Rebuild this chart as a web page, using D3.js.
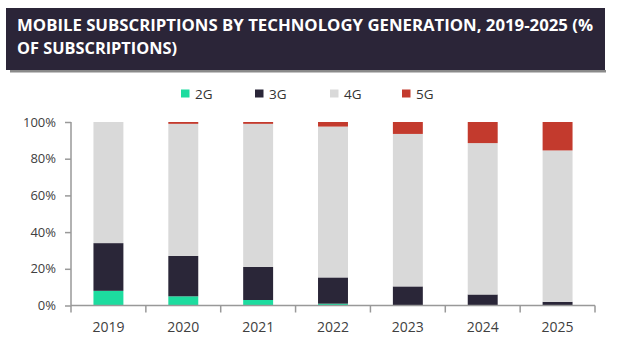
<!DOCTYPE html>
<html><head><meta charset="utf-8">
<script src="https://cdn.jsdelivr.net/npm/d3@7/dist/d3.min.js"></script>
<style>body{margin:0;background:#fff;}svg{display:block;}</style>
</head><body><svg id="c" width="624" height="360"></svg>
<script>
const years = ["2019","2020","2021","2022","2023","2024","2025"];
const series = ["2G","3G","4G","5G"];
const g2 = [8, 5, 3, 1, 0, 0, 0];
const g3 = [26, 22, 18, 14.3, 10.4, 6, 2];
const g4 = [66, 72, 78, 82.2, 83.1, 82.5, 82.5];
const g5 = [0, 1, 1, 2.5, 6.5, 11.5, 15.5];
const yTicks = [0, 20, 40, 60, 80, 100];
const colors = {"2G":"#1ddc9f","3G":"#2a2638","4G":"#d9d9d9","5G":"#c33a2d"};
const titleLines = ["MOBILE SUBSCRIPTIONS  BY TECHNOLOGY GENERATION, 2019-2025 (%", "OF SUBSCRIPTIONS)"];

const svg = d3.select("#c");
// title box
svg.append("rect").attr("x",10).attr("y",70).attr("width",596).attr("height",2.5).attr("fill","#8a8a8a");
svg.append("rect").attr("x",6).attr("y",8).attr("width",599).attr("height",62).attr("fill","#2b2538");
const t1 = svg.append("text").attr("x",17).attr("y",30.5).attr("fill","#fff")
  .attr("font-family","Open Sans, sans-serif").attr("font-weight","bold").attr("font-size",15.5)
  .text(titleLines[0]);
t1.attr("textLength",576).attr("lengthAdjust","spacingAndGlyphs");
const t2 = svg.append("text").attr("x",17).attr("y",54).attr("fill","#fff")
  .attr("font-family","Open Sans, sans-serif").attr("font-weight","bold").attr("font-size",15.5)
  .text(titleLines[1]);
t2.attr("textLength",160).attr("lengthAdjust","spacingAndGlyphs");

const data = years.map((y,i)=>({year:y,"2G":g2[i],"3G":g3[i],"4G":g4[i],"5G":g5[i]}));
const stack = d3.stack().keys(series)(data);

const x = d3.scaleBand().domain(years).range([71,595]).paddingInner(0.6).paddingOuter(0.3);
const y = d3.scaleLinear().domain([0,100]).range([305.5,122]);

const gBars = svg.append("g");
stack.forEach(s=>{
  gBars.selectAll(null).data(s).enter().append("rect")
    .attr("x",d=>x(d.data.year)).attr("width",x.bandwidth())
    .attr("y",d=>y(d[1])).attr("height",d=>Math.max(0,y(d[0])-y(d[1])))
    .attr("fill",colors[s.key]);
});

// y axis
const yAxis = d3.axisLeft(y).tickValues(yTicks).tickFormat(d=>d+"%").tickSize(6).tickPadding(9);
const ya = svg.append("g").attr("transform","translate(71,0)").call(yAxis);
ya.select(".domain").attr("stroke","#999").attr("stroke-width",1.5).attr("d","M0,305.5V122");
ya.selectAll(".tick line").attr("stroke","#999").attr("stroke-width",1.5);
ya.selectAll("text").attr("font-family","Open Sans, sans-serif").attr("font-size",13).attr("fill","#404040");

// x axis
const xa = svg.append("g").attr("transform","translate(0,305.5)");
xa.append("line").attr("x1",71).attr("x2",595).attr("stroke","#999").attr("stroke-width",1.5);
const bounds = years.map((yr,i)=>x(yr)-x.step()*0.3).concat([595]);
xa.selectAll(".tk").data(bounds).enter().append("line")
  .attr("x1",d=>d).attr("x2",d=>d).attr("y1",0).attr("y2",7).attr("stroke","#999").attr("stroke-width",1.5);
xa.selectAll(".lb").data(years).enter().append("text")
  .attr("x",d=>x(d)+x.bandwidth()/2).attr("y",26.5).attr("text-anchor","middle")
  .attr("font-family","Open Sans, sans-serif").attr("font-size",14).attr("fill","#404040").text(d=>d);

// legend
const legX = [181,255,330,402];
const lg = svg.append("g");
series.forEach((s,i)=>{
  lg.append("rect").attr("x",legX[i]).attr("y",89.5).attr("width",8.5).attr("height",8).attr("fill",colors[s]);
  lg.append("text").attr("x",legX[i]+14).attr("y",98.5).attr("font-family","Open Sans, sans-serif")
    .attr("font-size",13.5).attr("fill","#333").text(s);
});
</script></body></html>
